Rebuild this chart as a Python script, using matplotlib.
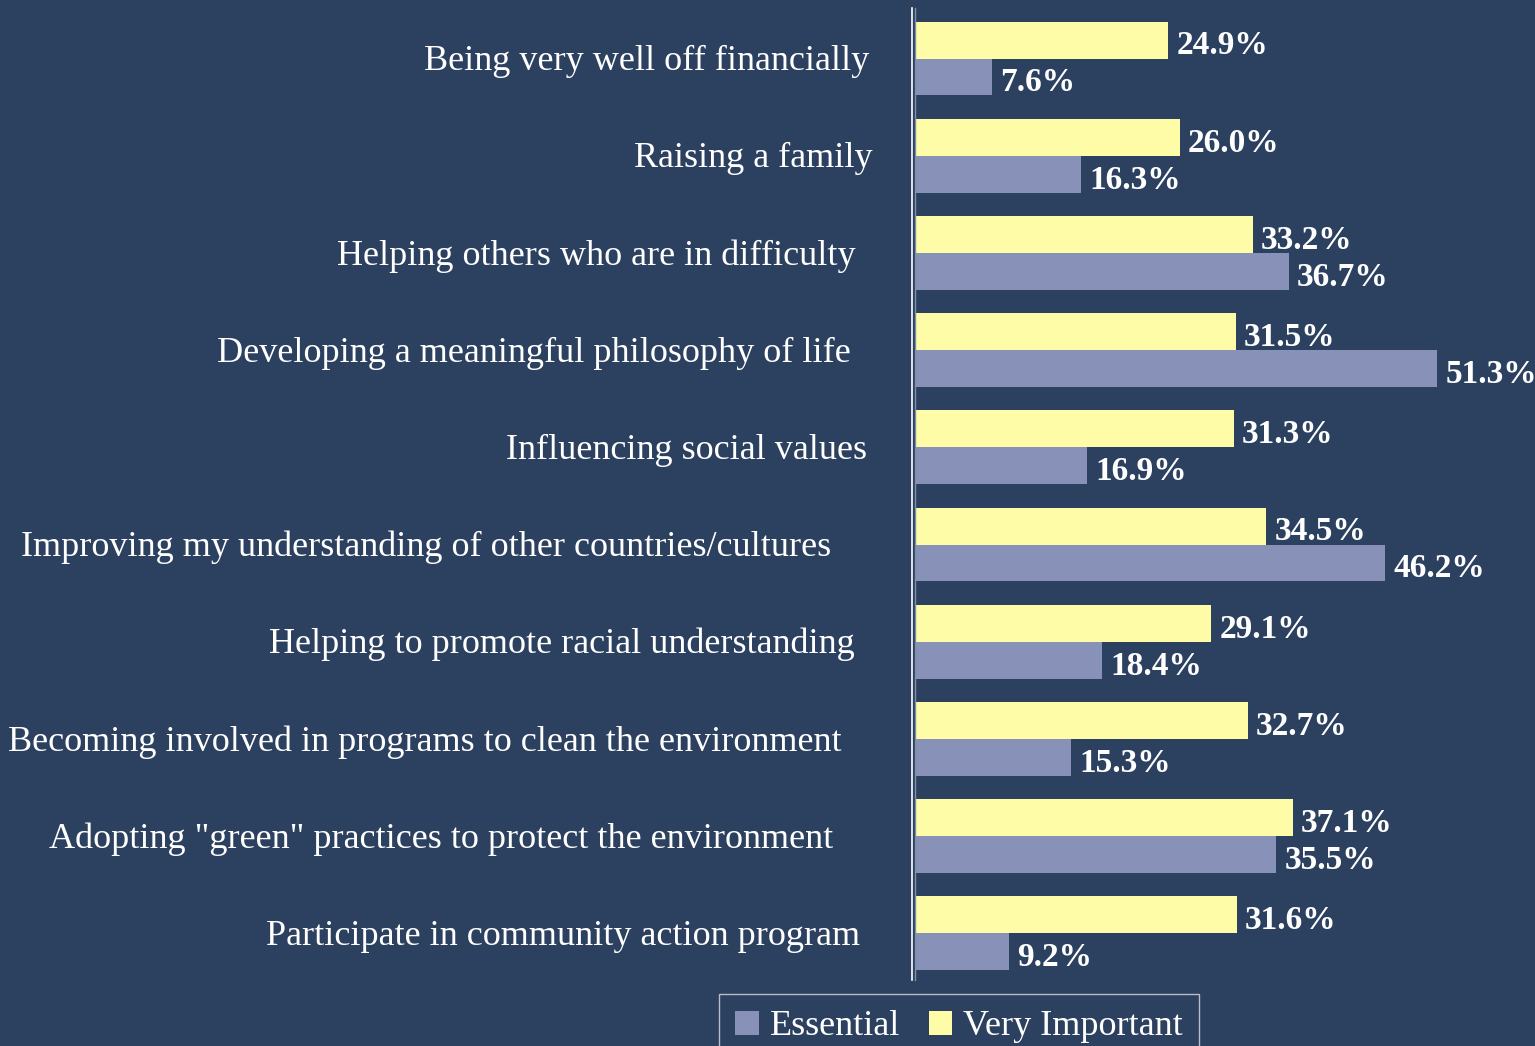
import matplotlib.pyplot as plt
from matplotlib.lines import Line2D

categories = [
    "Being very well off financially",
    "Raising a family",
    "Helping others who are in difficulty",
    "Developing a meaningful philosophy of life",
    "Influencing social values",
    "Improving my understanding of other countries/cultures",
    "Helping to promote racial understanding",
    "Becoming involved in programs to clean the environment",
    'Adopting "green" practices to protect the environment',
    "Participate in community action program",
]
very_important = [24.9, 26.0, 33.2, 31.5, 31.3, 34.5, 29.1, 32.7, 37.1, 31.6]
essential = [7.6, 16.3, 36.7, 51.3, 16.9, 46.2, 18.4, 15.3, 35.5, 9.2]

# right edge of each category label, in pixels from the left of the figure
label_ends = [869, 873, 856, 851, 867, 831, 855, 842, 833, 860]

bg = "#2c405f"
yellow = "#fffca8"
blue = "#8892b8"

plt.rcParams["font.family"] = ["Liberation Serif", "DejaVu Serif"]

W, H = 1535, 1046
fig = plt.figure(figsize=(W / 100, H / 100), dpi=100, facecolor=bg)
ax = fig.add_axes([915 / W, 1 - 980 / H, 1 - 915 / W, (980 - 8) / H])
ax.set_facecolor(bg)

h = 0.38
ys = list(range(len(categories)))
ax.barh([y - h / 2 for y in ys], very_important, height=h, color=yellow, label="Very Important")
ax.barh([y + h / 2 for y in ys], essential, height=h, color=blue, label="Essential")

# value labels
for y, v in zip(ys, very_important):
    ax.text(v + 0.8, y - h / 2 + 0.06, f"{v:.1f}%", color="white", fontsize=24,
            fontweight="bold", va="center", ha="left")
for y, v in zip(ys, essential):
    ax.text(v + 0.8, y + h / 2 + 0.06, f"{v:.1f}%", color="white", fontsize=24,
            fontweight="bold", va="center", ha="left")

ax.set_xlim(0, (W - 915) / 10.18)
ax.set_ylim(len(categories) - 0.52, -0.52)
ax.set_xticks([])
ax.set_yticks([])

# category labels, right aligned at their own positions
for y, name, xe in zip(ys, categories, label_ends):
    ax.annotate(name, xy=(xe / W, y + 0.03), xycoords=(fig.transFigure, ax.transData),
                fontsize=26, color="white", ha="right", va="center", annotation_clip=False)

for s in ["top", "right", "bottom"]:
    ax.spines[s].set_visible(False)
ax.spines["left"].set_color("#8090a8")
ax.spines["left"].set_linewidth(1)

fig.add_artist(Line2D([912 / W, 912 / W], [1 - 980 / H, 1 - 8 / H], color="white", lw=1.2))

handles, labels = ax.get_legend_handles_labels()
leg = fig.legend(handles[::-1], labels[::-1], loc="upper left",
                 bbox_to_anchor=(719 / W, 1 - 994 / H), ncol=2, fontsize=26,
                 frameon=True, facecolor=bg, edgecolor="#dddddd", labelcolor="white",
                 handlelength=0.65, handleheight=0.65, handletextpad=0.3,
                 columnspacing=0.8, borderpad=0.45, borderaxespad=0, fancybox=False)
leg.get_frame().set_linewidth(1)

fig.savefig("out.png", dpi=100, facecolor=bg)
